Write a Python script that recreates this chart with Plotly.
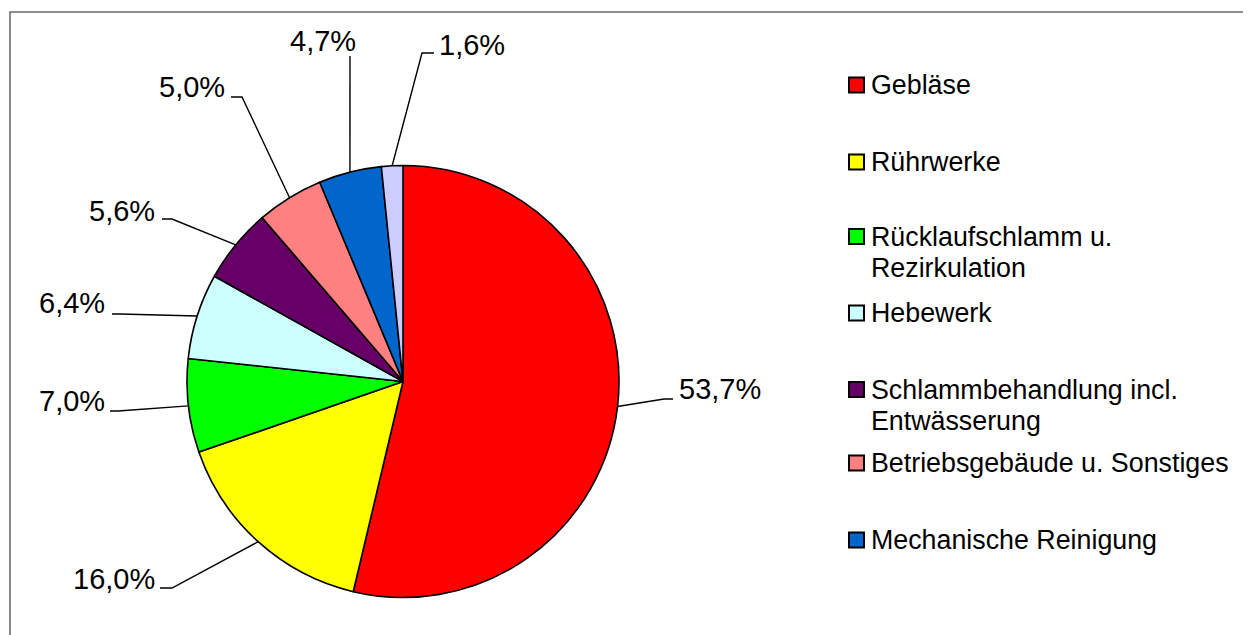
import math
import plotly.graph_objects as go

# ---------------- data ----------------
categories = [
    "Gebläse",
    "Rührwerke",
    "Rücklaufschlamm u. Rezirkulation",
    "Hebewerk",
    "Schlammbehandlung incl. Entwässerung",
    "Betriebsgebäude u. Sonstiges",
    "Mechanische Reinigung",
    "Weitere",
]
legend_labels = [
    "Gebläse",
    "Rührwerke",
    "Rücklaufschlamm u.<br>Rezirkulation",
    "Hebewerk",
    "Schlammbehandlung incl.<br>Entwässerung",
    "Betriebsgebäude u. Sonstiges",
    "Mechanische Reinigung",
]
shares = [53.7, 16.0, 7.0, 6.4, 5.6, 5.0, 4.7, 1.6]
colors = ["#FF0000", "#FFFF00", "#00FF00", "#CCFFFF", "#660066",
          "#FF8080", "#0066CC", "#CCCCFF"]

# ---------------- layout constants (page pixels) ----------------
W, H = 1251, 635
OFF = 8  # page body margin
CX, CY, R = 403.0, 381.5, 216.0

# label text anchor (x, y, xanchor) and leader bend / end points
label_pos = [
    (677, 389, "left"),
    (157, 579, "right"),
    (107, 401, "right"),
    (107, 303, "right"),
    (157, 211, "right"),
    (227, 87, "right"),
    (323, 41, "center"),
    (437, 45, "left"),
]
leader_pts = [
    [(664, 399), (673, 399)],
    [(172, 588), (160, 588)],
    [(118, 411), (110, 411)],
    [(120, 314), (112, 314)],
    [(172, 219), (162, 219)],
    [(242, 97), (231, 97)],
    [(350, 56)],
    [(422, 53), (434, 53)],
]
legend_y = [85, 162, 252, 313, 405, 463, 540]
LEG_X = 849
LEG_SQ = 15
LINE_GAP = 31

FONT = "Liberation Sans, Arial, sans-serif"


def px(x):
    return (x - OFF) / W


def py(y):
    return 1 - (y - OFF) / H


def fmt(v):
    return f"{v:.1f}".replace(".", ",") + "%"


fig = go.Figure(go.Pie(
    labels=categories,
    values=shares,
    sort=False,
    direction="clockwise",
    rotation=0,
    marker=dict(colors=colors, line=dict(color="#000000", width=1.6)),
    textinfo="none",
    hoverinfo="label+percent",
    showlegend=False,
    domain=dict(x=[px(CX - R), px(CX + R)], y=[py(CY + R), py(CY - R)]),
))

shapes = []
annotations = []

# frame (cut off on the right and bottom like the reference)
shapes.append(dict(type="rect", xref="paper", yref="paper",
                   x0=px(10), x1=px(W + 30), y0=py(H + 30), y1=py(12),
                   line=dict(color="#6a6a6a", width=1.6),
                   fillcolor="rgba(0,0,0,0)", layer="below"))

# data labels with leader lines
total = sum(shares)
cum = 0.0
for i, v in enumerate(shares):
    mid = (cum + v / 2) / total * 2 * math.pi
    cum += v
    ex = CX + R * math.sin(mid)
    ey = CY - R * math.cos(mid)
    pts = [(ex, ey)] + leader_pts[i]
    path = "M " + " L ".join(f"{px(x)},{py(y)}" for x, y in pts)
    shapes.append(dict(type="path", xref="paper", yref="paper", path=path,
                       line=dict(color="#000000", width=1.4)))
    tx, ty, anc = label_pos[i]
    annotations.append(dict(x=px(tx), y=py(ty), xref="paper", yref="paper",
                            text=fmt(v), showarrow=False, xanchor=anc,
                            yanchor="middle",
                            font=dict(family=FONT, size=29, color="#000000")))

# custom legend (first seven categories, as in the reference)
for i, lab in enumerate(legend_labels):
    yc = legend_y[i]
    lines = lab.split("<br>")
    n = len(lines)
    first_y = yc - (n - 1) * LINE_GAP / 2
    shapes.append(dict(type="rect", xref="paper", yref="paper",
                       x0=px(LEG_X), x1=px(LEG_X + LEG_SQ),
                       y0=py(first_y + LEG_SQ / 2), y1=py(first_y - LEG_SQ / 2),
                       fillcolor=colors[i], line=dict(color="#000000", width=2)))
    for k, line in enumerate(lines):
        annotations.append(dict(x=px(LEG_X + LEG_SQ + 5),
                                y=py(first_y + k * LINE_GAP),
                                xref="paper", yref="paper", text=line,
                                showarrow=False, xanchor="left",
                                yanchor="middle", align="left",
                                font=dict(family=FONT, size=26.8,
                                          color="#000000")))

fig.update_layout(
    width=W, height=H, autosize=False,
    margin=dict(l=0, r=0, t=0, b=0, pad=0),
    paper_bgcolor="#FFFFFF", plot_bgcolor="#FFFFFF",
    shapes=shapes, annotations=annotations,
)

fig.write_html("out.html")
